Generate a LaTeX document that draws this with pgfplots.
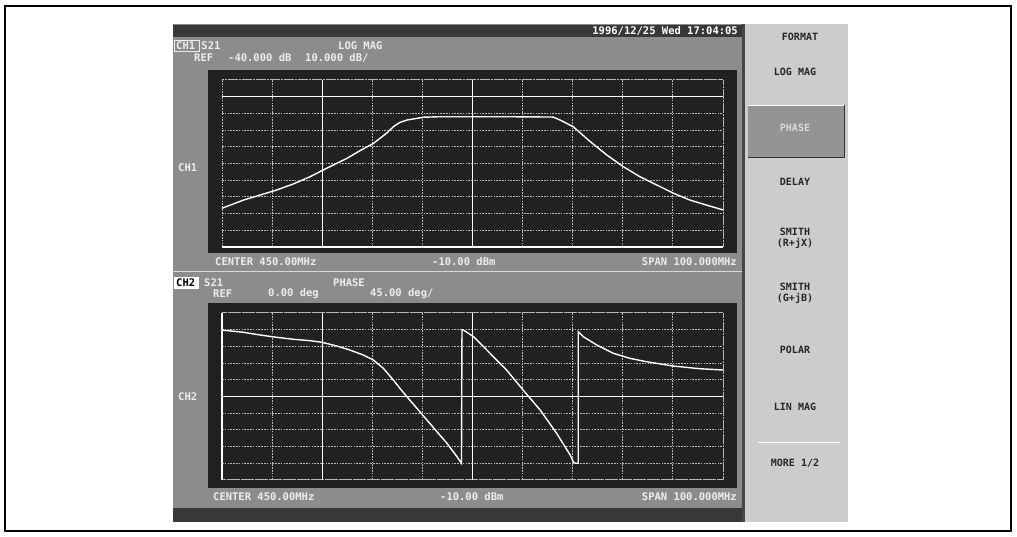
\documentclass[border=0pt]{standalone}
\usepackage{fontspec}
\usepackage{pgfplots}
\pgfplotsset{compat=1.18}
\newfontfamily\mono{DejaVu Sans Mono}
\definecolor{scr}{gray}{0.55}
\definecolor{menu}{gray}{0.80}
\definecolor{menudark}{gray}{0.58}
\definecolor{plotbg}{gray}{0.13}
\definecolor{gridc}{gray}{0.72}
\definecolor{bar}{gray}{0.22}
\definecolor{txt}{gray}{0.93}
\definecolor{mtxt}{gray}{0.15}
\tikzset{
  lab/.style={font=\mono\bfseries\fontsize{10.5}{11}\selectfont, text=txt, inner sep=0pt},
  mlab/.style={font=\mono\bfseries\fontsize{10}{11}\selectfont, text=mtxt, inner sep=0pt, align=center},
}
\pgfplotsset{
  vna/.style={
    anchor=south west, scale only axis, width=501pt, height=167pt,
    xmin=0, xmax=10, xtick={0,1,...,10},
    xticklabels={}, yticklabels={}, major tick length=0pt,
    grid=major,
    major grid style={gridc, line width=1pt, dash pattern=on 1.5pt off 1.3pt},
    axis line style={gridc, line width=1pt, dash pattern=on 1.5pt off 1.3pt},
    extra tick style={major grid style={white, line width=1.2pt, solid}},
    extra x tick labels={}, extra y tick labels={},
    clip=false,
  },
  trace/.style={white, line width=1.4pt, no markers},
}
\begin{document}
\begin{tikzpicture}[x=1pt,y=1pt]
% page and outer frame
\fill[white] (0,0) rectangle (1017,537);
\draw[line width=1.3pt] (5,6) rectangle (1011,531);
% screen
\fill[scr] (173,15) rectangle (742,513);
\fill[bar] (173,500) rectangle (742,512);
\fill[bar] (173,15) rectangle (742,29);
\draw[white!85!black, line width=1pt] (173,265) -- (742,265);
% menu panel
\fill[menu] (742,15) rectangle (848,513);
\fill[gray!55!black] (742,15) rectangle (745,513);
\fill[menudark] (748,380) rectangle (844,432);
\draw[white, line width=0.8pt] (748,432) -- (844,432);
\draw[gray!40!black, line width=0.8pt] (748,380) -- (844,380) -- (844,432);
\draw[white, line width=1pt] (758,94) -- (840,94);
% plot backgrounds
\fill[plotbg] (208,284) rectangle (737,467);
\fill[plotbg] (208,49) rectangle (737,234);
% header texts
\node[lab, anchor=east, text=white] at (738,506) {1996/12/25 Wed 17:04:05};
\draw[txt, line width=0.8pt] (174,486) rectangle (199,497);
\node[lab, anchor=west] at (176,491) {CH1 S21};
\node[lab, anchor=west] at (338,491) {LOG MAG};
\node[lab, anchor=west] at (194,479) {REF};
\node[lab, anchor=west] at (228,479) {-40.000 dB};
\node[lab, anchor=west] at (305,479) {10.000 dB/};
\node[lab, anchor=west] at (178,369) {CH1};
\node[lab, anchor=west] at (215,275) {CENTER 450.00MHz};
\node[lab, anchor=west] at (432,275) {-10.00 dBm};
\node[lab, anchor=east] at (737,275) {SPAN 100.000MHz};
\fill[white] (174,248) rectangle (199,260);
\node[lab, anchor=west, text=black] at (176,254) {CH2};
\node[lab, anchor=west] at (204,254) {S21};
\node[lab, anchor=west] at (333,254) {PHASE};
\node[lab, anchor=west] at (213,243) {REF};
\node[lab, anchor=west] at (268,243) {0.00 deg};
\node[lab, anchor=west] at (370,243) {45.00 deg/};
\node[lab, anchor=west] at (178,140) {CH2};
\node[lab, anchor=west] at (213,40) {CENTER 450.00MHz};
\node[lab, anchor=west] at (440,40) {-10.00 dBm};
\node[lab, anchor=east] at (737,40) {SPAN 100.000MHz};
% menu texts
\node[mlab] at (800,500) {FORMAT};
\node[mlab] at (795,465) {LOG MAG};
\node[mlab, text=white!85!black] at (795,409) {PHASE};
\node[mlab] at (795,355) {DELAY};
\node[mlab] at (795,299) {SMITH\\(R+jX)};
\node[mlab] at (795,244) {SMITH\\(G+jB)};
\node[mlab] at (795,187) {POLAR};
\node[mlab] at (795,130) {LIN MAG};
\node[mlab] at (795,74) {MORE 1/2};
% upper plot: S21 log magnitude
\begin{axis}[vna, at={(222pt,290pt)}, ymin=-90, ymax=10, ytick={-90,-80,...,10},
  extra x ticks={2,5}, extra y ticks={0,-90}]
\addplot[trace] coordinates {
(0,-66.8) (0.43,-61.9) (0.76,-58.9) (1.09,-55.9) (1.42,-52.3) (1.76,-47.9)
(2.02,-43.9) (2.22,-40.9) (2.49,-37.0) (2.75,-32.4) (3.02,-28.0) (3.28,-22.0)
(3.42,-18.0) (3.55,-15.4) (3.69,-14.0) (4.02,-12.3) (4.35,-12.0) (5.0,-12.0)
(5.6,-12.0) (6.2,-12.1) (6.61,-12.2) (6.75,-14.0) (7.01,-18.0) (7.35,-26.9)
(7.68,-34.9) (8.01,-41.9) (8.34,-47.9) (8.68,-52.9) (9.01,-57.8) (9.34,-61.9)
(9.67,-64.9) (10.0,-67.8)
};
\end{axis}
% lower plot: S21 phase
\begin{axis}[vna, at={(222pt,57pt)}, ymin=-225, ymax=225, ytick={-225,-180,...,225},
  extra x ticks={0,2,5}, extra y ticks={0}]
\addplot[trace] coordinates {
(0,179) (0.43,173.0) (0.76,165.7) (1.09,159.5) (1.42,154.2) (1.76,150.4)
(1.99,146.1) (2.29,136.1) (2.55,125.3) (2.82,111.8) (3.02,98.4) (3.22,76.0)
(3.42,44.5) (3.55,22.1) (3.69,-0.5) (3.89,-31.8) (4.09,-63.3) (4.29,-94.9)
(4.49,-126.1) (4.69,-162.2) (4.78,-180) (4.79,180) (4.82,179) (5.02,161.2)
(5.35,116.4) (5.68,71.4) (6.01,17.5) (6.35,-36.4) (6.68,-99.2) (6.95,-157.7)
(7.01,-175.7) (7.05,-180) (7.11,-180) (7.11,175) (7.21,161.2) (7.48,138.8)
(7.81,116.4) (8.14,102.9) (8.47,93.8) (9.00,82.2) (9.53,74.9) (10.0,71.4)
};
\end{axis}
\end{tikzpicture}
\end{document}
